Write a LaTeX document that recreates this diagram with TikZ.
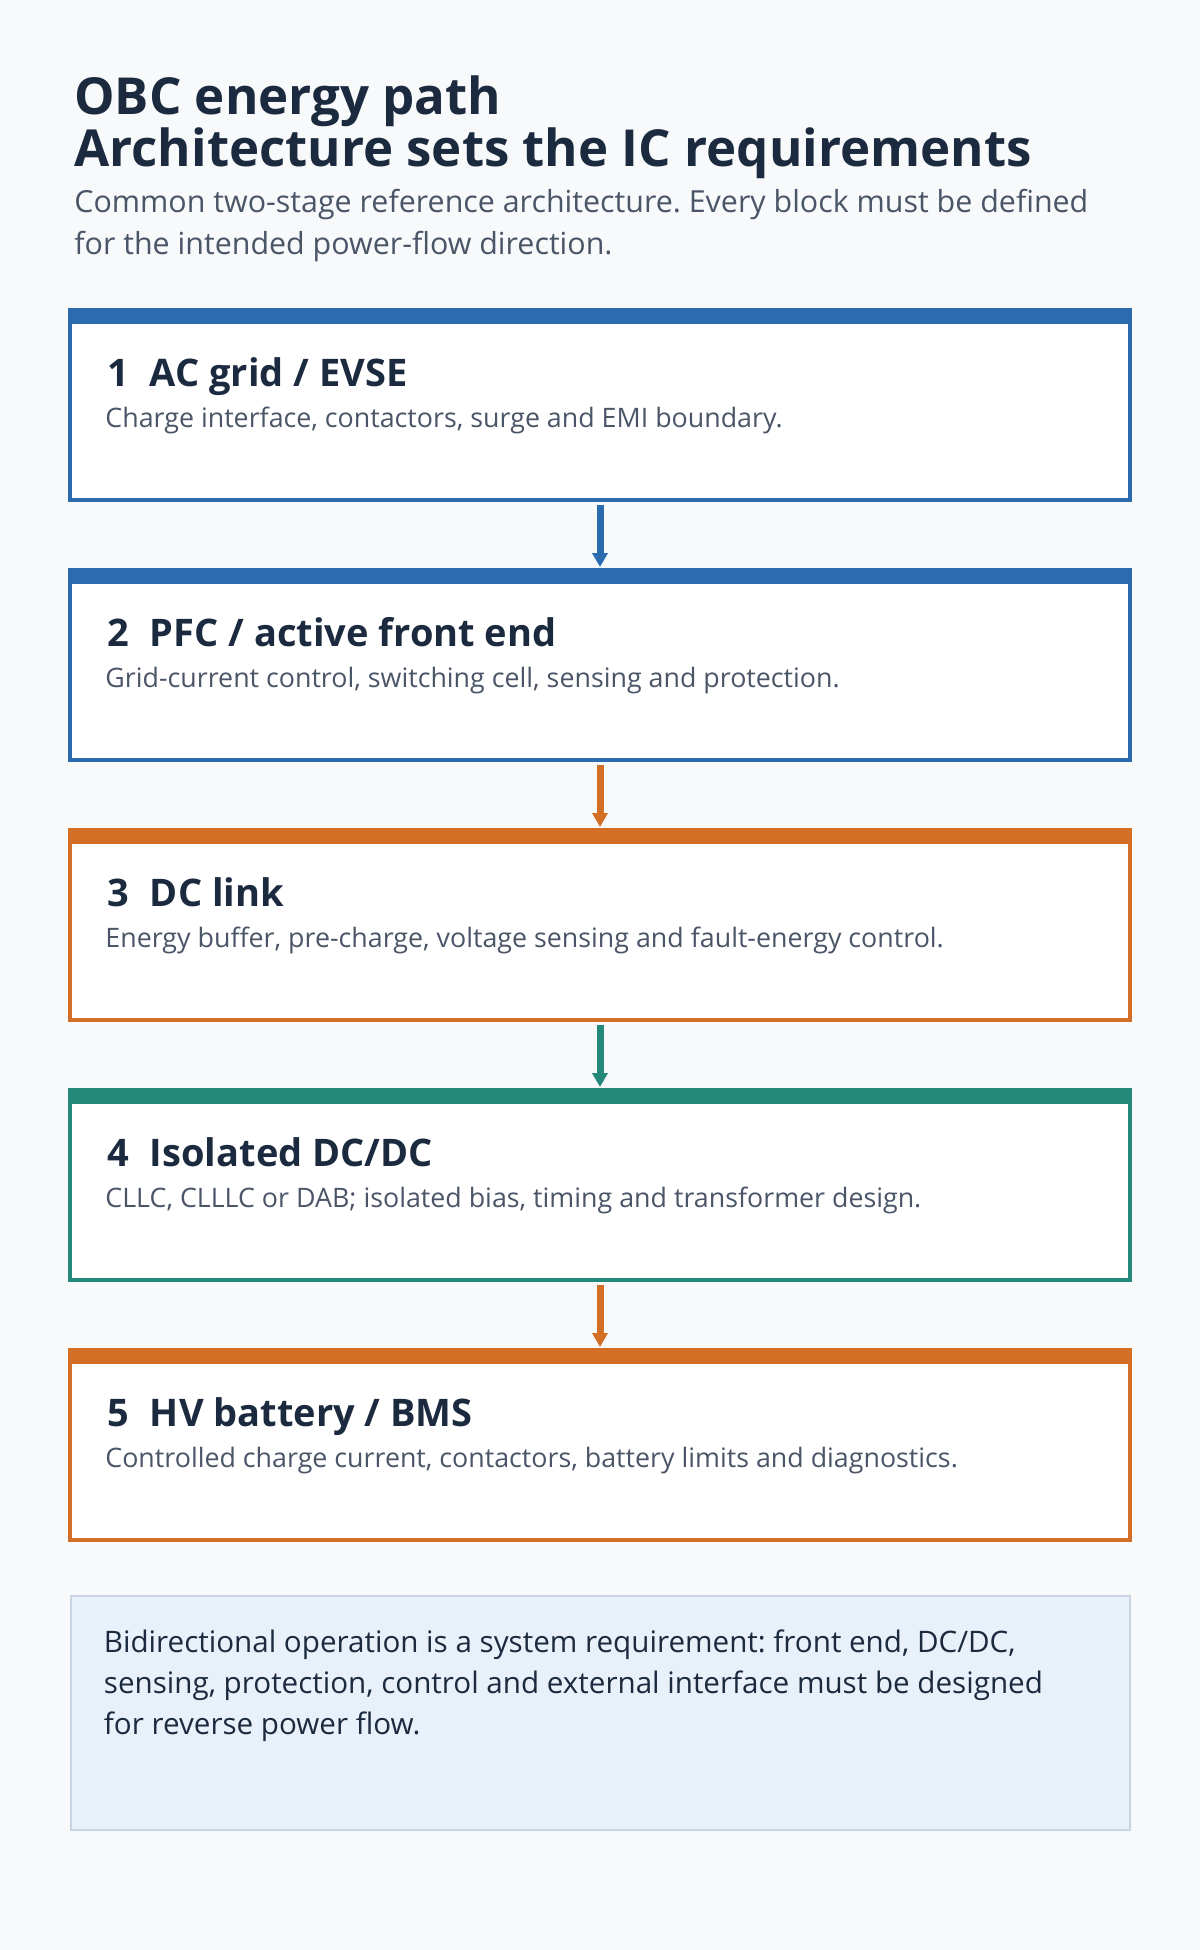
\documentclass[tikz,border=0pt]{standalone}
\usepackage{fontspec}
\setmainfont{Open Sans}
\frenchspacing
\usetikzlibrary{positioning,calc,arrows.meta}
\definecolor{pagebg}{HTML}{F7F9FB}
\definecolor{stageblue}{HTML}{2B6CB0}
\definecolor{stageorange}{HTML}{D36F24}
\definecolor{stageteal}{HTML}{24887B}
\definecolor{inkdark}{HTML}{1B2A3E}
\definecolor{inkgrey}{HTML}{4A5568}
\definecolor{notefill}{HTML}{E8F0F9}
\definecolor{noteline}{HTML}{C9D5E3}

\begin{document}
\begin{tikzpicture}
  [x=0.5pt,y=0.5pt,
   stage/.style={rectangle,draw=#1,fill=white,line width=2pt,minimum width=530pt,minimum height=95pt,inner sep=0pt},
   line/.style={anchor=base west,inner sep=0pt},
   titleT/.style={line,text=inkdark,font=\fontsize{25.5}{26}\selectfont\bfseries},
   subT/.style={line,text=inkgrey,font=\fontsize{15.2}{18}\selectfont},
   headT/.style={line,text=inkdark,font=\fontsize{19}{22}\selectfont\bfseries},
   descT/.style={line,text=inkgrey,font=\fontsize{13.4}{16}\selectfont},
   noteT/.style={line,text=inkdark,font=\fontsize{14.8}{18}\selectfont},
   flow/.style={draw=#1,line width=3.5pt,-{Triangle[width=7.5pt,length=7pt]}},
   node distance=33pt]

  \fill[pagebg] (0,0) rectangle (1200,-1950);
  \useasboundingbox (0,0) rectangle (1200,-1950);

  % heading
  \node[titleT] (title1) at (74,-114) {OBC energy path};
  \node[titleT] (title2) at ($(title1.base west)+(0,-52)$) {Architecture sets the IC requirements};
  \node[subT] (sub1) at ($(title2.base west)+(0,-46)$) {Common two-stage reference architecture. Every block must be defined};
  \node[subT] (sub2) at ($(sub1.base west)+(0,-42)$) {for the intended power-flow direction.};

  % the five stages
  \node[stage=stageblue] (ac) at (600,-405) {};
  \node[stage=stageblue] (pfc) [below=of ac] {};
  \node[stage=stageorange] (dclink) [below=of pfc] {};
  \node[stage=stageteal] (dcdc) [below=of dclink] {};
  \node[stage=stageorange] (hv) [below=of dcdc] {};

  \fill[stageblue] (ac.north west) rectangle ($(ac.north east)+(0,-16)$);
  \fill[stageblue] (pfc.north west) rectangle ($(pfc.north east)+(0,-16)$);
  \fill[stageorange] (dclink.north west) rectangle ($(dclink.north east)+(0,-16)$);
  \fill[stageteal] (dcdc.north west) rectangle ($(dcdc.north east)+(0,-16)$);
  \fill[stageorange] (hv.north west) rectangle ($(hv.north east)+(0,-16)$);

  \node[headT] (acH) at ($(ac.north west)+(39,-78)$) {1\hspace{0.55em}AC grid / EVSE};
  \node[descT] (acD) at ($(ac.north west)+(37,-119)$) {Charge interface, contactors, surge and EMI boundary.};
  \node[headT] (pfcH) at ($(pfc.north west)+(39,-78)$) {2\hspace{0.55em}PFC / active front end};
  \node[descT] (pfcD) at ($(pfc.north west)+(37,-119)$) {Grid-current control, switching cell, sensing and protection.};
  \node[headT] (dclinkH) at ($(dclink.north west)+(39,-78)$) {3\hspace{0.55em}DC link};
  \node[descT] (dclinkD) at ($(dclink.north west)+(37,-119)$) {Energy buffer, pre-charge, voltage sensing and fault-energy control.};
  \node[headT] (dcdcH) at ($(dcdc.north west)+(39,-78)$) {4\hspace{0.55em}Isolated DC/DC};
  \node[descT] (dcdcD) at ($(dcdc.north west)+(37,-119)$) {CLLC, CLLLC or DAB; isolated bias, timing and transformer design.};
  \node[headT] (hvH) at ($(hv.north west)+(39,-78)$) {5\hspace{0.55em}HV battery / BMS};
  \node[descT] (hvD) at ($(hv.north west)+(37,-119)$) {Controlled charge current, contactors, battery limits and diagnostics.};

  \draw[flow=stageblue] ($(ac.south)+(0,-3)$) -- ($(pfc.north)+(0,1)$);
  \draw[flow=stageorange] ($(pfc.south)+(0,-3)$) -- ($(dclink.north)+(0,1)$);
  \draw[flow=stageteal] ($(dclink.south)+(0,-3)$) -- ($(dcdc.north)+(0,1)$);
  \draw[flow=stageorange] ($(dcdc.south)+(0,-3)$) -- ($(hv.north)+(0,1)$);

  % note
  \node[rectangle,draw=noteline,fill=notefill,line width=1pt,minimum width=529.5pt,
        minimum height=117pt,inner sep=0pt,below=26.5pt of hv] (note) {};
  \node[noteT] (note1) at ($(note.north west)+(34,-57)$) {Bidirectional operation is a system requirement: front end, DC/DC,};
  \node[noteT] (note2) at ($(note1.base west)+(0,-41)$) {sensing, protection, control and external interface must be designed};
  \node[noteT] (note3) at ($(note2.base west)+(0,-41)$) {for reverse power flow.};
\end{tikzpicture}
\end{document}
